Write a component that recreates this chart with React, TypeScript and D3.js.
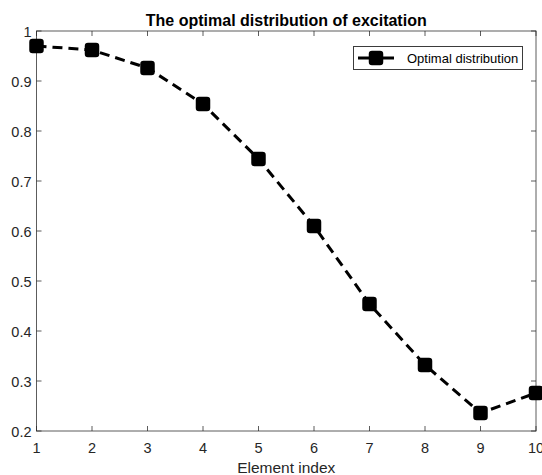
import React from "react";
import * as d3 from "d3";

const elementIndex = [1, 2, 3, 4, 5, 6, 7, 8, 9, 10];
const excitation = [0.97, 0.962, 0.926, 0.854, 0.744, 0.61, 0.454, 0.332, 0.236, 0.276];
const xTicks = [1, 2, 3, 4, 5, 6, 7, 8, 9, 10];
const yTicks = [0.2, 0.3, 0.4, 0.5, 0.6, 0.7, 0.8, 0.9, 1];
const titleText = "The optimal distribution of excitation";
const xLabel = "Element index";
const seriesName = "Optimal distribution";

export default function App() {
  const W = 542, H = 475;
  const left = 36.5, right = 536, top = 31, bottom = 431;
  const x = d3.scaleLinear().domain([1, 10]).range([left, right]);
  const y = d3.scaleLinear().domain([0.2, 1]).range([bottom, top]);
  const line = d3.line<number>().x((_, i) => x(elementIndex[i])).y((d) => y(d));
  const axisColor = "#262626";
  const font = "Arial, 'Liberation Sans', sans-serif";
  const ms = 13;
  const tl = 5;
  return (
    <svg width={W} height={H} style={{ position: "absolute", left: 0, top: 0 }} fontFamily={font}>
      <rect x={0} y={0} width={W} height={H} fill="#fff" />
      <rect x={left} y={top} width={right - left} height={bottom - top} fill="none" stroke={axisColor} strokeWidth={1} opacity={0.75} />
      {xTicks.map((t) => (
        <g key={"x" + t}>
          <line x1={x(t)} x2={x(t)} y1={bottom} y2={bottom - tl} stroke={axisColor} opacity={0.75} />
          <line x1={x(t)} x2={x(t)} y1={top} y2={top + tl} stroke={axisColor} opacity={0.75} />
          <text x={x(t)} y={bottom + 22} textAnchor="middle" fontSize={14.5} fill={axisColor}>{t}</text>
        </g>
      ))}
      {yTicks.map((t) => (
        <g key={"y" + t}>
          <line x1={left} x2={left + tl} y1={y(t)} y2={y(t)} stroke={axisColor} opacity={0.75} />
          <line x1={right} x2={right - tl} y1={y(t)} y2={y(t)} stroke={axisColor} opacity={0.75} />
          <text x={left - 5} y={y(t) + 5.5} textAnchor="end" fontSize={14.5} fill={axisColor}>{String(t)}</text>
        </g>
      ))}
      <text x={(left + right) / 2} y={473} textAnchor="middle" fontSize={15.5} fill={axisColor}>{xLabel}</text>
      <text x={(left + right) / 2} y={26} textAnchor="middle" fontSize={16} fontWeight="bold" fill="#000">{titleText}</text>
      <path d={line(excitation) || ""} fill="none" stroke="#000" strokeWidth={3} strokeDasharray="10,6" />
      {excitation.map((v, i) => (
        <rect key={"m" + i} x={x(elementIndex[i]) - ms / 2} y={y(v) - ms / 2} width={ms} height={ms} rx={2.5} fill="#000" stroke="#000" strokeWidth={1.5} />
      ))}
      <g>
        <rect x={353.5} y={46.5} width={169} height={23} fill="#fff" stroke={axisColor} strokeWidth={1} opacity={0.9} />
        <line x1={358} x2={394} y1={58} y2={58} stroke="#000" strokeWidth={3} />
        <rect x={376 - ms / 2} y={58 - ms / 2} width={ms} height={ms} rx={2.5} fill="#000" stroke="#000" strokeWidth={1.5} />
        <text x={407} y={62.5} fontSize={13} fill="#000">{seriesName}</text>
      </g>
    </svg>
  );
}
